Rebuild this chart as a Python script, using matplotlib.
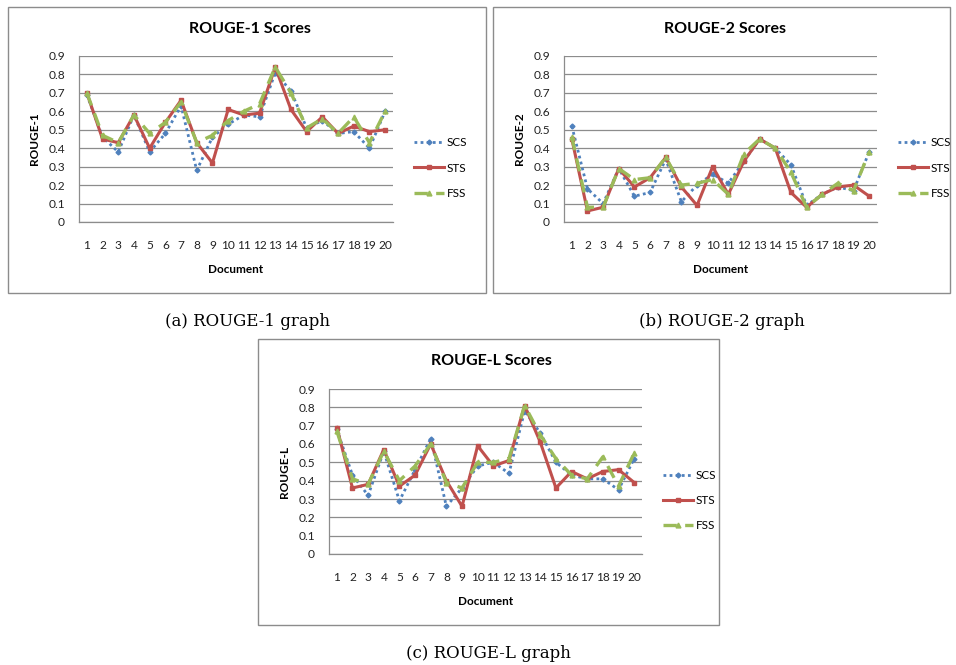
import numpy as np
import matplotlib
matplotlib.use("Agg")
from matplotlib import pyplot as plt
from matplotlib.patches import Rectangle

# documents on the x axis
docs = list(range(1, 21))
series_names = ["SCS", "STS", "FSS"]

# ROUGE-1 scores
r1_scs = [0.69, 0.46, 0.38, 0.58, 0.38, 0.48, 0.63, 0.28, 0.46, 0.53,
          0.58, 0.57, 0.81, 0.71, 0.51, 0.55, 0.48, 0.49, 0.40, 0.60]
r1_sts = [0.70, 0.45, 0.43, 0.58, 0.40, 0.54, 0.66, 0.43, 0.32, 0.61,
          0.58, 0.59, 0.84, 0.61, 0.49, 0.57, 0.48, 0.52, 0.49, 0.50]
r1_fss = [0.70, 0.47, 0.43, 0.58, 0.48, 0.54, 0.65, 0.43, 0.47, 0.55,
          0.60, 0.64, 0.84, 0.70, 0.51, 0.56, 0.48, 0.57, 0.43, 0.60]

# ROUGE-2 scores
r2_scs = [0.52, 0.18, 0.10, 0.29, 0.14, 0.16, 0.34, 0.11, 0.20, 0.26,
          0.21, 0.33, 0.45, 0.40, 0.31, 0.09, 0.15, 0.19, 0.17, 0.38]
r2_sts = [0.45, 0.06, 0.08, 0.29, 0.19, 0.24, 0.35, 0.19, 0.09, 0.30,
          0.15, 0.33, 0.45, 0.40, 0.16, 0.08, 0.15, 0.19, 0.20, 0.14]
r2_fss = [0.46, 0.08, 0.08, 0.29, 0.23, 0.24, 0.35, 0.20, 0.21, 0.23,
          0.15, 0.37, 0.45, 0.40, 0.27, 0.08, 0.15, 0.21, 0.17, 0.38]

# ROUGE-L scores
rl_scs = [0.68, 0.43, 0.32, 0.56, 0.29, 0.46, 0.63, 0.26, 0.36, 0.48,
          0.50, 0.44, 0.78, 0.66, 0.50, 0.43, 0.41, 0.41, 0.35, 0.52]
rl_sts = [0.69, 0.36, 0.38, 0.57, 0.37, 0.43, 0.60, 0.40, 0.26, 0.59,
          0.48, 0.51, 0.81, 0.61, 0.36, 0.45, 0.41, 0.45, 0.46, 0.39]
rl_fss = [0.67, 0.41, 0.38, 0.56, 0.40, 0.48, 0.60, 0.39, 0.36, 0.50,
          0.50, 0.52, 0.81, 0.65, 0.52, 0.43, 0.41, 0.53, 0.37, 0.55]

yticks = [0, 0.1, 0.2, 0.3, 0.4, 0.5, 0.6, 0.7, 0.8, 0.9]

W, H = 956, 665
fig = plt.figure(figsize=(W / 100, H / 100), dpi=100)
plt.rcParams['font.family'] = ['Lato', 'DejaVu Sans']


def fx(px):
    return px / W


def fy(py):
    return 1 - py / H


styles = [
    dict(color="#4F81BD", linestyle=(0, (1, 1.2)), linewidth=2.0, marker="D", markersize=2.5),
    dict(color="#C0504D", linestyle="-", linewidth=2.2, marker="s", markersize=3.5),
    dict(color="#9BBB59", linestyle=(0, (4, 2.5)), linewidth=2.4, marker="^", markersize=3.5),
]


def draw_chart(frame, plot, title, ylabel, data, caption):
    # frame = (left, top, right, bottom) in pixels, plot area likewise
    l, t, r, b = frame
    fig.patches.append(Rectangle((fx(l), fy(b)), fx(r - l), (b - t) / H,
                                 transform=fig.transFigure, fill=False,
                                 edgecolor="#8c8c8c", linewidth=1.0))
    pl, pt, pr, pb = plot
    ax = fig.add_axes([fx(pl), fy(pb), fx(pr - pl), (pb - pt) / H])
    for vals, name, st in zip(data, series_names, styles):
        ax.plot(docs, vals, label=name, **st)
    ax.set_xlim(0.5, 20.5)
    ax.set_ylim(0, 0.9)
    ax.set_yticks(yticks)
    ax.set_yticklabels(["0" if v == 0 else f"{v:.1f}" for v in yticks])
    ax.set_xticks(docs)
    ax.grid(axis="y", color="#8c8c8c", linewidth=0.9)
    ax.set_axisbelow(True)
    for s in ["top", "right"]:
        ax.spines[s].set_visible(False)
    for s in ["left", "bottom"]:
        ax.spines[s].set_color("#8c8c8c")
        ax.spines[s].set_linewidth(0.9)
    ax.tick_params(length=0, labelsize=8.6, colors="#222222")
    ax.tick_params(axis="x", pad=13)
    ax.tick_params(axis="y", pad=10)
    ax.set_xlabel("Document", fontsize=8.5, fontweight="bold", labelpad=9)
    ax.set_ylabel(ylabel, fontsize=8.5, fontweight="bold", labelpad=6)
    fig.text(fx((l + r) / 2 + 3), fy(t + 22), title, fontsize=11.5,
             fontweight="bold", ha="center", va="center")
    ax.legend(loc="center left", bbox_to_anchor=(fx(pr + 21), fy((pt + pb) / 2 + 29)),
              bbox_transform=fig.transFigure, frameon=False, fontsize=8.5,
              handlelength=2.5, labelspacing=1.2, handletextpad=0.3,
              borderpad=0, borderaxespad=0)
    fig.text(fx((l + r) / 2), fy(b + 29), caption, fontsize=12,
             family="DejaVu Serif", ha="center", va="center")


draw_chart((8, 7, 486, 293), (79, 56, 393, 222), "ROUGE-1 Scores", "ROUGE-1",
           [r1_scs, r1_sts, r1_fss], "(a) ROUGE-1 graph")
draw_chart((493, 7, 950, 293), (564, 56, 877, 222), "ROUGE-2 Scores", "ROUGE-2",
           [r2_scs, r2_sts, r2_fss], "(b) ROUGE-2 graph")
draw_chart((258, 339, 719, 625), (329, 389, 642, 554), "ROUGE-L Scores", "ROUGE-L",
           [rl_scs, rl_sts, rl_fss], "(c) ROUGE-L graph")

fig.savefig("out.png", dpi=100)
